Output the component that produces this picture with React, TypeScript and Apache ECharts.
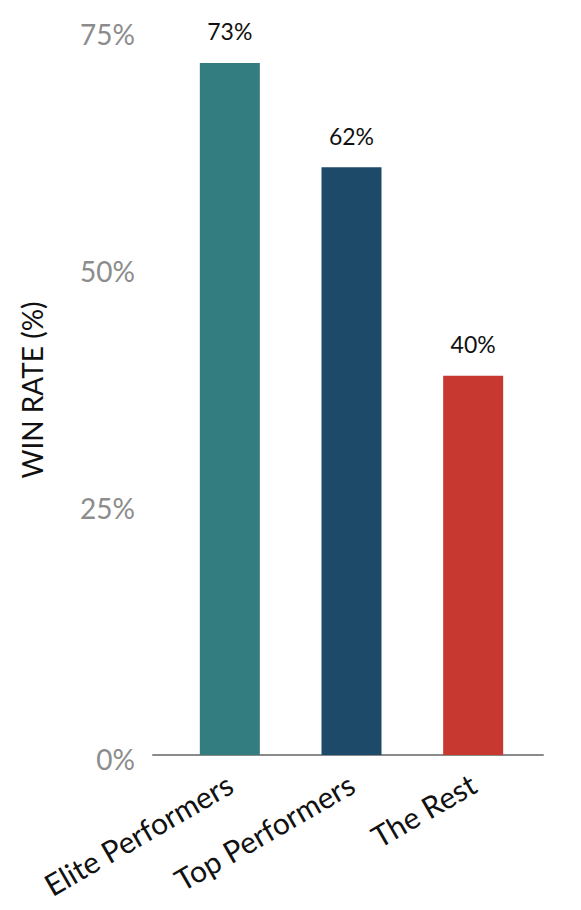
import React, { useEffect, useRef } from "react";
import * as echarts from "echarts";

const categories = ["Elite Performers", "Top Performers", "The Rest"];
const winRates = [73, 62, 40];
const barColors = ["#337c80", "#1d4a68", "#c73830"];
const yTicks = [0, 25, 50, 75];
const yAxisTitle = "WIN RATE (%)";

const FONT = "Lato, 'Noto Sans', sans-serif";

export default function App() {
  const ref = useRef<HTMLDivElement>(null);
  useEffect(() => {
    if (!ref.current) return;
    const chart = echarts.init(ref.current, null, { renderer: "svg" });
    chart.setOption({
      animation: false,
      backgroundColor: "#ffffff",
      textStyle: { fontFamily: FONT },
      grid: [
        { left: 169, right: 47, top: 44, bottom: 155, containLabel: false },
        { left: 153, right: 38, top: 44, bottom: 155, containLabel: false },
      ],
      xAxis: [
        {
          type: "category",
          gridIndex: 0,
          data: categories,
          axisLine: { show: false },
          axisTick: { show: false },
          axisLabel: {
            rotate: 30,
            margin: 26,
            fontSize: 30,
            color: "#111111",
            fontFamily: FONT,
            interval: 0,
          },
        },
        {
          type: "value",
          gridIndex: 1,
          min: 0,
          max: 1,
          axisLine: { show: true, lineStyle: { color: "#8a8a8a", width: 2 } },
          axisTick: { show: false },
          axisLabel: { show: false },
          splitLine: { show: false },
        },
      ],
      yAxis: [
        {
          type: "value",
          gridIndex: 0,
          min: yTicks[0],
          max: yTicks[yTicks.length - 1],
          interval: yTicks[1] - yTicks[0],
          axisLine: { show: false },
          axisTick: { show: false },
          splitLine: { show: false },
          axisLabel: {
            margin: 34,
            formatter: (v: number) => (v === 0 ? `{z|${v}%}` : `{n|${v}%}`),
            rich: {
              n: {
                fontSize: 28,
                color: "#8c8c8c",
                fontFamily: FONT,
                padding: [0, 0, 20, 0],
              },
              z: {
                fontSize: 28,
                color: "#8c8c8c",
                fontFamily: FONT,
                padding: [8, 0, 0, 0],
              },
            },
          },
        },
        { type: "value", gridIndex: 1, show: false, min: 0, max: 1 },
      ],
      graphic: [
        {
          type: "text",
          x: 32,
          y: 390,
          rotation: Math.PI / 2,
          style: {
            text: yAxisTitle,
            fontSize: 28,
            fontFamily: FONT,
            fill: "#111111",
            textAlign: "center",
            textVerticalAlign: "middle",
          },
        },
      ],
      series: [
        {
          type: "bar",
          xAxisIndex: 0,
          yAxisIndex: 0,
          barWidth: 60,
          data: winRates.map((v, i) => ({ value: v, itemStyle: { color: barColors[i] } })),
          label: {
            show: true,
            position: "top",
            distance: 20,
            formatter: (p: any) => `${p.value}%`,
            fontSize: 23,
            color: "#111111",
            fontFamily: FONT,
          },
        },
      ],
    });
    return () => chart.dispose();
  }, []);
  return (
    <div style={{ position: "absolute", left: 0, top: 0 }}>
      <div ref={ref} style={{ width: 581, height: 910 }} />
    </div>
  );
}
